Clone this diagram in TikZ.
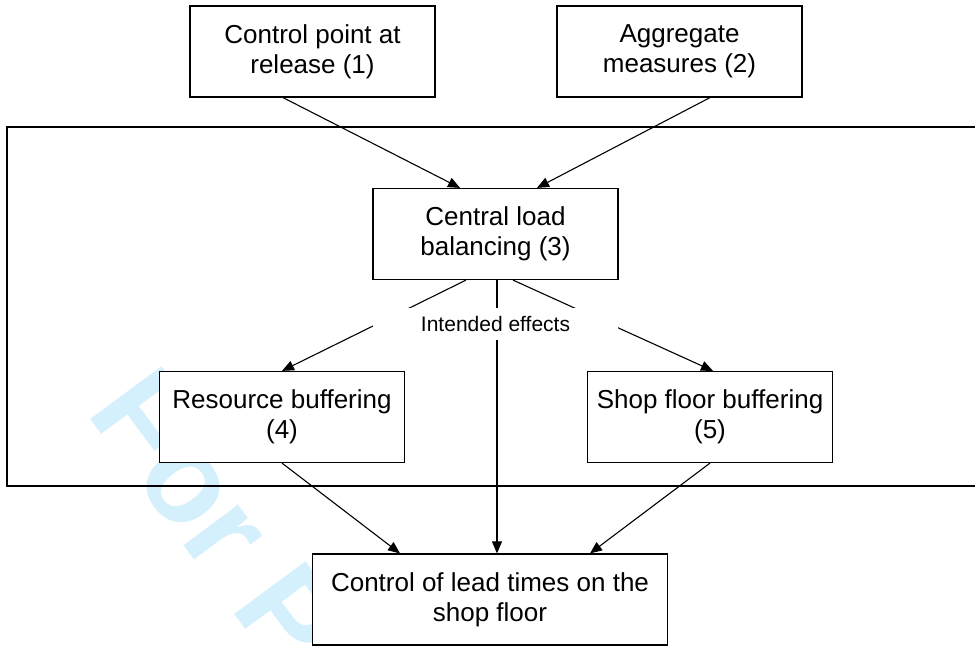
\documentclass[tikz,border=0pt]{standalone}
\usepackage{fontspec}
\setmainfont{Liberation Sans}
\usetikzlibrary{arrows.meta,calc}
\definecolor{wmcolor}{RGB}{212,240,252}
\begin{document}
\begin{tikzpicture}[x=1pt,y=-1pt,
  box/.style={draw=black,line width=1.2pt,fill=white,minimum width=245pt,minimum height=91pt,
    align=center,font=\fontsize{26}{30}\selectfont,inner sep=0pt},
  conn/.style={line width=1.1pt,-{Triangle[length=12pt,width=10pt]}},
  framebox/.style={line width=1.2pt,draw=black},
  wmtext/.style={text=wmcolor,font=\fontsize{129}{129}\selectfont\bfseries,inner sep=0pt},
  lbl/.style={fill=white,minimum width=245pt,minimum height=32pt,inner sep=0pt,font=\fontsize{21}{24}\selectfont}]
\useasboundingbox (0,0) rectangle (975,648);
\begin{scope}
  \clip (0,0) rectangle (975,648);
  \node[wmtext,rotate=-53.5,anchor=base west] (wmk) at (85,412) {For P};
  \draw[framebox] (990,127) -- (7,127) -- (7,486) -- (990,486);
\end{scope}
% nodes
\node[box] (b1) at (312.5,51.5) {Control point at\\release (1)};
\node[box] (b2) at (679.5,51.5) {Aggregate\\measures (2)};
\node[box] (b3) at (495.5,234) {Central load\\balancing (3)};
\node[box] (b4) at (282,417) {Resource buffering\\(4)};
\node[box] (b5) at (710,417) {Shop floor buffering\\(5)};
\node[box,minimum width=355pt] (b6) at (490,599.5) {Control of lead times on the\\shop floor};
% connectors
\draw[conn] ([xshift=-29.5pt]b1.south) -- ([xshift=-35.5pt]b3.north);
\draw[conn] ([xshift=30.5pt]b2.south) -- ([xshift=41.5pt]b3.north);
\draw[conn] ([xshift=-29.5pt]b3.south) -- (b4.north);
\draw[conn] ([xshift=1.5pt]b3.south) -- ([xshift=1.5pt]b3.south |- b6.north);
\draw[conn] ([xshift=17.5pt]b3.south) -- ([xshift=3pt]b5.north);
\draw[conn] (b4.south) -- ([xshift=-90pt]b6.north);
\draw[conn] (b5.south) -- ([xshift=100pt]b6.north);
% label over the connectors
\node[lbl] (lab) at (495.5,324) {Intended effects};
\end{tikzpicture}
\end{document}
